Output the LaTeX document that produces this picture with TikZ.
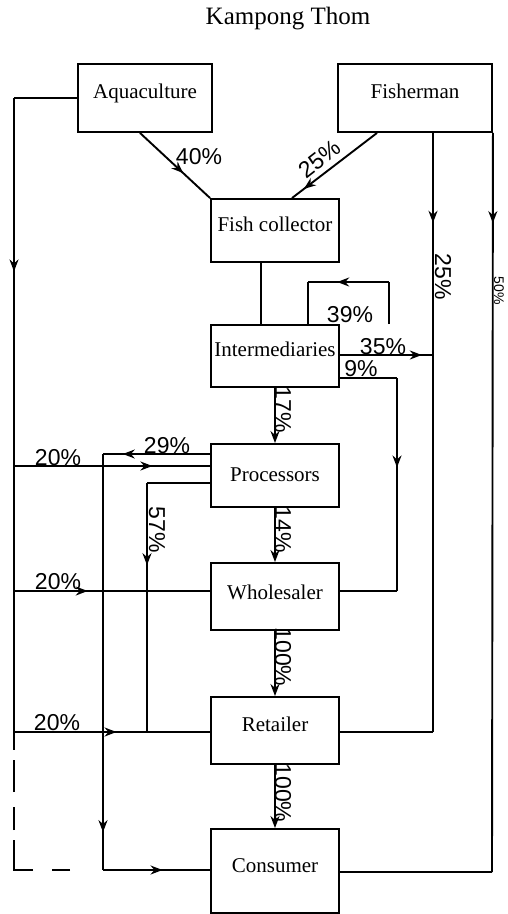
\documentclass[tikz,border=0pt]{standalone}
\usepackage{fontspec}
\setmainfont{Liberation Serif}
\newfontfamily\pctfont{Liberation Sans}
\usetikzlibrary{arrows.meta,decorations.markings}
\begin{document}
\begin{tikzpicture}[x=1pt,y=-1pt,line width=1.9pt,
  box/.style={draw,line width=1.9pt,minimum width=128pt,inner sep=0pt,
    text height=14pt,text depth=#1,font=\fontsize{21}{25}\selectfont},
  box/.default=2pt,
  arr/.style={-{Stealth[length=12pt,width=9pt]}},
  midarr/.style={postaction={decorate},decoration={markings,
    mark=at position #1 with {\arrow{Stealth[length=12pt,width=9pt]}}}},
  pct/.style={font=\pctfont\fontsize{23}{27}\selectfont,inner sep=0pt},
  spct/.style={font=\pctfont\fontsize{14}{16}\selectfont,inner sep=0pt}]
\useasboundingbox (0,0) rectangle (507,914);

\node[font=\fontsize{25}{29}\selectfont] (title) at (288,19) {Kampong Thom};

% boxes
\node[box=14pt,minimum width=134pt,minimum height=68pt] (aq) at (145,98) {Aquaculture};
\node[box=14pt,minimum width=154pt,minimum height=68pt] (fi) at (415,98) {Fisherman};
\node[box=13pt,minimum height=63pt] (fc) at (275,230.5) {Fish collector};
\node[box=14pt,minimum height=62pt] (in) at (275,356) {Intermediaries};
\node[box=2pt,minimum height=63pt] (pr) at (275,475.5) {Processors};
\node[box=9pt,minimum height=67pt] (wh) at (275,596.5) {Wholesaler};
\node[box=13pt,minimum height=67pt] (re) at (275,730.5) {Retailer};
\node[box=12pt,minimum height=84pt] (co) at (275,871) {Consumer};

% left trunk from aquaculture
\coordinate (L1) at (14,98);
\coordinate (L2) at (14,750);
\coordinate (L3) at (14,870);
\coordinate (L4) at (70,870);
\draw (aq.west) -- (L1);
\draw[midarr=0.266] (L1) -- (L2);
\draw[dash pattern=on 18pt off 19pt on 49pt off 10pt on 23pt off 15pt on 32pt off 10pt] (L4) -- (L3) -- (L2);

% aquaculture -> fish collector
\draw[midarr=0.62] ([xshift=-5pt]aq.south) -- (fc.north west);
\node[pct] (l40) at (199,157) {40\%};

% fisherman -> fish collector
\draw[midarr=0.86] ([xshift=-38pt]fi.south) -- ([xshift=17pt]fc.north);
\node[pct,rotate=38] (l25a) at (320,159) {25\%};

% fisherman -> retailer (25%)
\coordinate (f2) at (433,732);
\draw[midarr=0.15] ([xshift=18pt]fi.south) -- (f2);
\draw (f2) -- (re.east |- f2);
\node[pct,rotate=-90] (l25b) at (443,277) {25\%};

% fisherman -> consumer (50%)
\coordinate (g2) at (492,872);
\draw[midarr=0.122] (fi.south east) -- (g2);
\draw (g2) -- (co.east |- g2);
\node[spct,rotate=-90] (l50) at (499,291) {50\%};

% fish collector -- intermediaries
\draw ([xshift=-14pt]fc.south) -- ([xshift=-14pt]in.north);

% self loop 39%
\coordinate (k1) at (389,282);
\coordinate (k2) at (308,282);
\draw ([xshift=114pt]in.north) -- (k1);
\draw[midarr=0.64] (k1) -- (k2);
\draw (k2) -- ([xshift=33pt]in.north);
\node[pct] (l39) at (350,315) {39\%};

% 35%
\coordinate (h1) at (433,355);
\draw[midarr=0.88] (in.east |- h1) -- (h1);
\node[pct] (l35) at (383,347) {35\%};

% 9%
\coordinate (n1) at (397,378);
\coordinate (n2) at (397,591);
\draw (in.east |- n1) -- (n1);
\draw[midarr=0.42] (n1) -- (n2);
\draw (n2) -- (wh.east |- n2);
\node[pct] (l9) at (361,369) {9\%};

% main vertical chain
\draw[arr] (in.south) -- (pr.north);
\node[pct,rotate=-90] (l17) at (283,410) {17\%};
\draw[arr] (pr.south) -- (wh.north);
\node[pct,rotate=-90] (l14) at (283,530) {14\%};
\draw[arr] (wh.south) -- (re.north);
\node[pct,rotate=-90] (l100a) at (283,657) {100\%};
\draw[arr] (re.south) -- (co.north);
\node[pct,rotate=-90] (l100b) at (283,793) {100\%};

% 20% inputs from the left trunk
\coordinate (a1) at (14,466);
\coordinate (a2) at (14,591);
\coordinate (a3) at (14,732);
\draw[midarr=0.706] (a1) -- (pr.west |- a1);
\draw[midarr=0.376] (a2) -- (wh.west |- a2);
\draw[midarr=0.523] (a3) -- (re.west |- a3);
\node[pct] (l20a) at (58,458) {20\%};
\node[pct] (l20b) at (58,582) {20\%};
\node[pct] (l20c) at (57,723) {20\%};

% 29% processors -> consumer
\coordinate (b1) at (103,454);
\coordinate (b2) at (103,870);
\draw[midarr=0.815] (pr.west |- b1) -- (b1);
\draw[midarr=0.909] (b1) -- (b2);
\draw[midarr=0.556] (b2) -- (co.west |- b2);
\node[pct] (l29) at (167,446) {29\%};

% 57% processors -> retailer line
\coordinate (c1) at (147,483);
\coordinate (c2) at (147,732);
\draw (pr.west |- c1) -- (c1);
\draw[midarr=0.33] (c1) -- (c2);
\node[pct,rotate=-90] (l57) at (157,530) {57\%};
\end{tikzpicture}
\end{document}
